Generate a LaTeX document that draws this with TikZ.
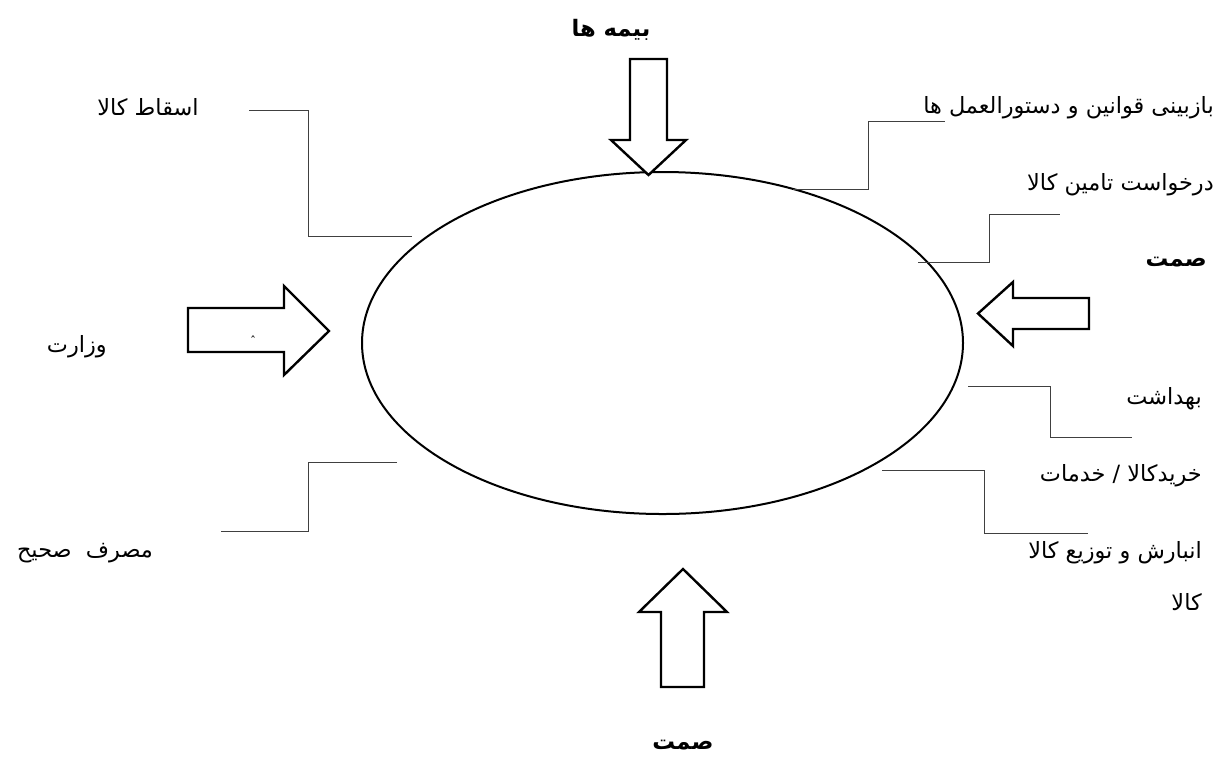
\documentclass[tikz,border=0pt]{standalone}
\usepackage{fontspec}
\usetikzlibrary{shapes.geometric}
\TeXXeTstate=1
\newfontfamily\arabicfont[Script=Arabic]{DejaVu Sans}
\newfontfamily\symfont{DejaVu Sans}
\begin{document}
\begin{tikzpicture}[x=0.75pt,y=-0.75pt,
  lbl/.style={font=\arabicfont\fontsize{16.8pt}{19pt}\selectfont, inner sep=0pt},
  lblb/.style={font=\arabicfont\bfseries\fontsize{17pt}{19pt}\selectfont, inner sep=0pt},
  bigarrow/.style={draw=black, line width=1.8pt, fill=white, line join=miter},
  leader/.style={draw=black!75, line width=0.75pt}]
\useasboundingbox (0,0) rectangle (1216,776);
\fill[white] (0,0) rectangle (1216,776);

% central ellipse
\node[ellipse, draw, line width=1.5pt, minimum width=450.75pt, minimum height=256.5pt, inner sep=0pt] (E) at (662.5,343) {};

% arrows
\draw[bigarrow] (630,59) -- (667,59) -- (667,140) -- (686,140) -- (648.5,175) -- (611,140) -- (630,140) -- cycle;
\draw[bigarrow] (1089,298) -- (1089,329) -- (1013,329) -- (1013,346) -- (978,313.5) -- (1013,282) -- (1013,298) -- cycle;
\draw[bigarrow] (188,308) -- (284,308) -- (284,286) -- (329,331) -- (284,375) -- (284,352) -- (188,352) -- cycle;
\draw[bigarrow] (661,687) -- (661,612) -- (639,612) -- (683,569) -- (727,612) -- (704,612) -- (704,687) -- cycle;

% leader lines
\coordinate (a1) at (249,110); \coordinate (a2) at (308,110); \coordinate (a3) at (308,236); \coordinate (a4) at (412,236);
\draw[leader] (a1) -- (a2) -- (a3) -- (a4);
\coordinate (b1) at (793,189); \coordinate (b2) at (868,189); \coordinate (b3) at (868,121); \coordinate (b4) at (945,121);
\draw[leader] (b1) -- (b2) -- (b3) -- (b4);
\coordinate (c1) at (918,262); \coordinate (c2) at (989,262); \coordinate (c3) at (989,214); \coordinate (c4) at (1060,214);
\draw[leader] (c1) -- (c2) -- (c3) -- (c4);
\coordinate (d1) at (968,386); \coordinate (d2) at (1050,386); \coordinate (d3) at (1050,437); \coordinate (d4) at (1132,437);
\draw[leader] (d1) -- (d2) -- (d3) -- (d4);
\coordinate (e1) at (882,470); \coordinate (e2) at (984,470); \coordinate (e3) at (984,533); \coordinate (e4) at (1088,533);
\draw[leader] (e1) -- (e2) -- (e3) -- (e4);
\coordinate (f1) at (397,462); \coordinate (f2) at (308,462); \coordinate (f3) at (308,531); \coordinate (f4) at (221,531);
\draw[leader] (f1) -- (f2) -- (f3) -- (f4);

% labels
\node[lblb] (bime) at (611,30) {\beginR بیمه ها\endR};
\node[lbl] (esghat) at (148,107) {\beginR اسقاط کالا\endR};
\node[lbl, anchor=east] (baz) at (1214,108) {\beginR بازبینی قوانین و دستورالعمل ها\endR};
\node[lbl, anchor=east] (dar) at (1214,185) {\beginR درخواست تامین کالا\endR};
\node[lblb, anchor=east] (samt1) at (1207,262) {\beginR صمت\endR};
\node[lbl, anchor=east] (vez) at (107,347) {\beginR وزارت\endR};
\node[font=\symfont\fontsize{9pt}{10pt}\selectfont, inner sep=0pt] (hat) at (253,341) {ˆ};
\node[lbl, anchor=east] (behd) at (1202,399) {\beginR بهداشت\endR};
\node[lbl, anchor=east] (kharid) at (1202,476) {\beginR خریدکالا / خدمات\endR};
\node[lbl, anchor=east] (anbar) at (1202,553) {\beginR انبارش و توزیع کالا\endR};
\node[lbl, anchor=east] (kala) at (1202,602) {\beginR کالا\endR};
\node[lbl] (masraf) at (85,553) {\beginR مصرف\ \ صحیح\endR};
\node[lblb] (samt2) at (683,745) {\beginR صمت\endR};
\end{tikzpicture}
\end{document}
